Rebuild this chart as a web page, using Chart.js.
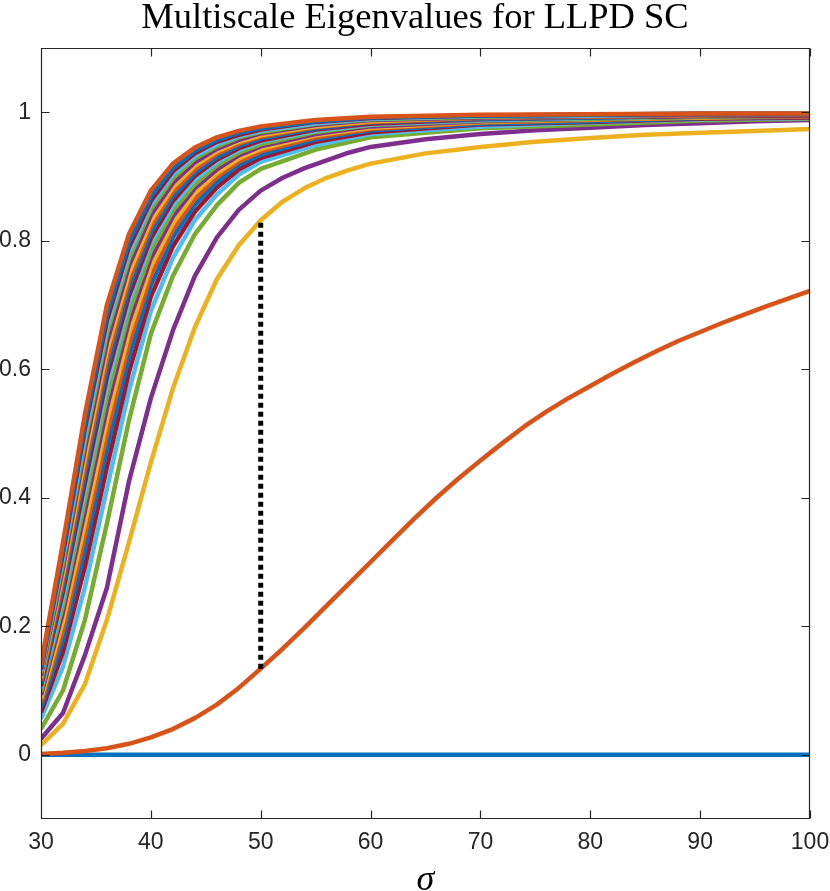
<!DOCTYPE html>
<html>
<head>
<meta charset="utf-8">
<script src="https://cdn.jsdelivr.net/npm/chart.js@4"></script>
<style>
html,body{margin:0;padding:0;background:#fff;}
#wrap{width:830px;height:891px;position:relative;}
</style>
</head>
<body>
<div id="wrap"><canvas id="c"></canvas></div>
<script>
// ---- data ----
const titleText = "Multiscale Eigenvalues for LLPD SC";
const xLabel = "σ";
const xTicks = [30, 40, 50, 60, 70, 80, 90, 100];
const yTicks = [0, 0.2, 0.4, 0.6, 0.8, 1];
const yTickLabels = ["0", "0.2", "0.4", "0.6", "0.8", "1"];
const matlabColors = ["#0072BD", "#D95319", "#EDB120", "#7E2F8E", "#77AC30", "#4DBEEE", "#A2142F"];

const sigmaEnds = [30, 100];
const sigmaAll = [30,32,34,36,38,40,42,44,46,48,50,52,54,56,58,60,62,64,66,68,70,72,74,76,78,80,82,84,86,88,90,92,94,96,98,100];
const sigmaFine = [30,32,34,36,38,40,42,44,46,48,50,52,54,56,58,60,65,70,75,80,85,90,95,100];
const sigmaCoarse = [30,32,34,36,38,40,42,44,46,48,50,55,60,70,80,90,100];

const lambda1 = [0, 0];
const lambda2 = [0.001,0.003,0.006,0.010,0.017,0.027,0.040,0.057,0.078,0.104,0.134,0.165,0.198,0.232,0.266,0.300,0.334,0.368,0.400,0.430,0.458,0.485,0.511,0.534,0.555,0.574,0.593,0.611,0.628,0.644,0.658,0.672,0.685,0.698,0.710,0.722];
const lambda3 = [0.015,0.048,0.110,0.210,0.330,0.455,0.570,0.665,0.740,0.793,0.832,0.861,0.882,0.898,0.910,0.920,0.936,0.946,0.954,0.960,0.965,0.968,0.971,0.974];
const lambda4 = [0.025,0.065,0.155,0.260,0.425,0.555,0.660,0.745,0.805,0.848,0.878,0.898,0.913,0.925,0.937,0.946,0.958,0.966,0.972,0.976,0.980,0.983,0.986,0.988];
const lambda5 = [0.040,0.100,0.210,0.360,0.520,0.655,0.745,0.810,0.855,0.890,0.912,0.942,0.961,0.975,0.981,0.987,0.990];
const lambda6 = [0.056,0.137,0.261,0.414,0.566,0.691,0.773,0.832,0.872,0.903,0.923,0.949,0.966,0.978,0.984,0.989,0.991];
const lambda7 = [0.066,0.160,0.293,0.448,0.595,0.713,0.791,0.845,0.883,0.911,0.929,0.954,0.969,0.981,0.985,0.990,0.992];
const lambda8 = [0.074,0.178,0.319,0.476,0.619,0.731,0.805,0.856,0.891,0.918,0.934,0.958,0.972,0.982,0.986,0.991,0.993];
const lambda9 = [0.081,0.194,0.341,0.499,0.639,0.746,0.817,0.865,0.899,0.923,0.939,0.961,0.974,0.984,0.988,0.992,0.993];
const lambda10 = [0.087,0.208,0.360,0.520,0.656,0.760,0.827,0.874,0.905,0.928,0.943,0.964,0.976,0.985,0.989,0.992,0.994];
const lambda11 = [0.093,0.222,0.380,0.540,0.674,0.773,0.838,0.882,0.911,0.933,0.947,0.966,0.978,0.986,0.990,0.993,0.994];
const lambda12 = [0.098,0.233,0.396,0.557,0.688,0.784,0.847,0.888,0.917,0.937,0.950,0.969,0.980,0.987,0.990,0.993,0.995];
const lambda13 = [0.103,0.245,0.412,0.574,0.703,0.796,0.855,0.895,0.922,0.941,0.954,0.971,0.981,0.988,0.991,0.994,0.995];
const lambda14 = [0.107,0.254,0.424,0.588,0.714,0.804,0.862,0.901,0.926,0.944,0.956,0.973,0.982,0.989,0.992,0.994,0.995];
const lambda15 = [0.111,0.263,0.437,0.601,0.726,0.813,0.869,0.906,0.930,0.948,0.959,0.975,0.984,0.990,0.992,0.995,0.996];
const lambda16 = [0.115,0.273,0.450,0.615,0.738,0.822,0.876,0.911,0.935,0.951,0.962,0.977,0.985,0.991,0.993,0.995,0.996];
const lambda17 = [0.119,0.282,0.463,0.629,0.749,0.831,0.883,0.917,0.939,0.954,0.964,0.978,0.986,0.992,0.994,0.996,0.996];
const lambda18 = [0.123,0.291,0.476,0.642,0.761,0.840,0.890,0.922,0.943,0.957,0.967,0.980,0.988,0.992,0.994,0.996,0.997];
const lambda19 = [0.127,0.300,0.488,0.656,0.772,0.849,0.897,0.928,0.947,0.961,0.969,0.982,0.989,0.993,0.995,0.997,0.997];
const lambda20 = [0.130,0.307,0.498,0.666,0.781,0.856,0.903,0.932,0.950,0.963,0.971,0.983,0.990,0.994,0.995,0.997,0.997];
const lambda21 = [0.133,0.314,0.508,0.676,0.790,0.862,0.908,0.936,0.954,0.965,0.973,0.985,0.991,0.995,0.996,0.997,0.997];
const lambda22 = [0.136,0.321,0.517,0.686,0.798,0.869,0.913,0.940,0.957,0.968,0.975,0.986,0.992,0.995,0.996,0.998,0.998];
const lambda23 = [0.140,0.330,0.530,0.700,0.810,0.878,0.920,0.945,0.961,0.971,0.978,0.988,0.993,0.996,0.997,0.998,0.998];

// eigengap marker at sigma = 50 (between lambda2 and lambda3)
const gapSigma = [50, 50];
const gapValues = [0.134, 0.832];

// ---- build datasets from the arrays ----
const seriesList = [
  [sigmaEnds, lambda1], [sigmaAll, lambda2], [sigmaFine, lambda3], [sigmaFine, lambda4],
  [sigmaCoarse, lambda5], [sigmaCoarse, lambda6], [sigmaCoarse, lambda7], [sigmaCoarse, lambda8],
  [sigmaCoarse, lambda9], [sigmaCoarse, lambda10], [sigmaCoarse, lambda11], [sigmaCoarse, lambda12],
  [sigmaCoarse, lambda13], [sigmaCoarse, lambda14], [sigmaCoarse, lambda15], [sigmaCoarse, lambda16],
  [sigmaCoarse, lambda17], [sigmaCoarse, lambda18], [sigmaCoarse, lambda19], [sigmaCoarse, lambda20],
  [sigmaCoarse, lambda21], [sigmaCoarse, lambda22], [sigmaCoarse, lambda23]
];

const datasets = seriesList.map(([xs, ys], i) => ({
  label: "λ" + (i + 1),
  data: ys.map((v, j) => ({x: xs[j], y: v})),
  borderColor: matlabColors[i % matlabColors.length],
  borderWidth: 4.5,
  pointRadius: 0,
  fill: false,
  tension: 0,
  borderJoinStyle: 'round',
  order: -i
}));

datasets.push({
  label: "gap",
  data: gapSigma.map((s, j) => ({x: s, y: gapValues[j]})),
  borderColor: "#000000",
  borderWidth: 5,
  borderDash: [5, 4],
  pointRadius: 0,
  fill: false,
  tension: 0,
  order: -1000
});

const axisColor = "#262626";

const boxPlugin = {
  id: 'matlabBox',
  afterDatasetsDraw(chart) {
    const {ctx, chartArea} = chart;
    const {left, right, top, bottom} = chartArea;
    const xs = chart.scales.x, ys = chart.scales.y;
    const L = Math.round(left) + 0.5, R = Math.round(right) - 0.5;
    const T = Math.round(top) + 0.5, B = Math.round(bottom) - 0.5;
    ctx.save();
    ctx.strokeStyle = axisColor;
    ctx.lineWidth = 1.2;
    ctx.beginPath();
    ctx.rect(L, T, R - L, B - T);
    const tl = 8;
    xTicks.forEach(v => {
      const px = Math.round(xs.getPixelForValue(v)) + 0.5;
      ctx.moveTo(px, B); ctx.lineTo(px, B - tl);
      ctx.moveTo(px, T); ctx.lineTo(px, T + tl);
    });
    yTicks.forEach(v => {
      const py = Math.round(ys.getPixelForValue(v)) + 0.5;
      ctx.moveTo(L, py); ctx.lineTo(L + tl, py);
      ctx.moveTo(R, py); ctx.lineTo(R - tl, py);
    });
    ctx.stroke();
    ctx.restore();
  }
};

new Chart(document.getElementById('c'), {
  type: 'line',
  data: { datasets },
  options: {
    responsive: true,
    maintainAspectRatio: false,
    animation: false,
    events: [],
    layout: { padding: { left: 0, right: 0, top: 0, bottom: 0 } },
    plugins: {
      legend: { display: false },
      tooltip: { enabled: false },
      title: {
        display: true,
        text: titleText,
        color: '#000',
        font: { family: 'Liberation Serif', size: 36.5, weight: 'normal', lineHeight: 1 },
        padding: { top: 0, bottom: 11.5 }
      }
    },
    scales: {
      x: {
        type: 'linear',
        min: 30, max: 100,
        grid: { display: false, drawTicks: false },
        border: { display: false },
        afterBuildTicks: s => { s.ticks = xTicks.map(v => ({value: v})); },
        afterFit: s => { s.height = 72; s.paddingLeft = 0; s.paddingRight = 20; },
        ticks: {
          autoSkip: false, maxRotation: 0, padding: 10,
          color: axisColor,
          font: { family: 'Liberation Sans', size: 23 },
          callback: v => String(v)
        },
        title: {
          display: true, text: xLabel, color: '#000',
          font: { family: 'Liberation Serif', size: 36, style: 'italic', lineHeight: 0.6 },
          padding: 0
        }
      },
      y: {
        type: 'linear',
        min: -0.1, max: 1.1,
        grid: { display: false, drawTicks: false },
        border: { display: false },
        afterBuildTicks: s => { s.ticks = yTicks.map(v => ({value: v})); },
        afterFit: s => { s.width = 41; s.paddingTop = 0; s.paddingBottom = 0; },
        ticks: {
          autoSkip: false, padding: 10,
          color: axisColor,
          font: { family: 'Liberation Sans', size: 23 },
          callback: (v) => { const k = yTicks.findIndex(t => Math.abs(t - v) < 1e-9); return k >= 0 ? yTickLabels[k] : ''; }
        }
      }
    }
  },
  plugins: [boxPlugin]
});
</script>
</body>
</html>
